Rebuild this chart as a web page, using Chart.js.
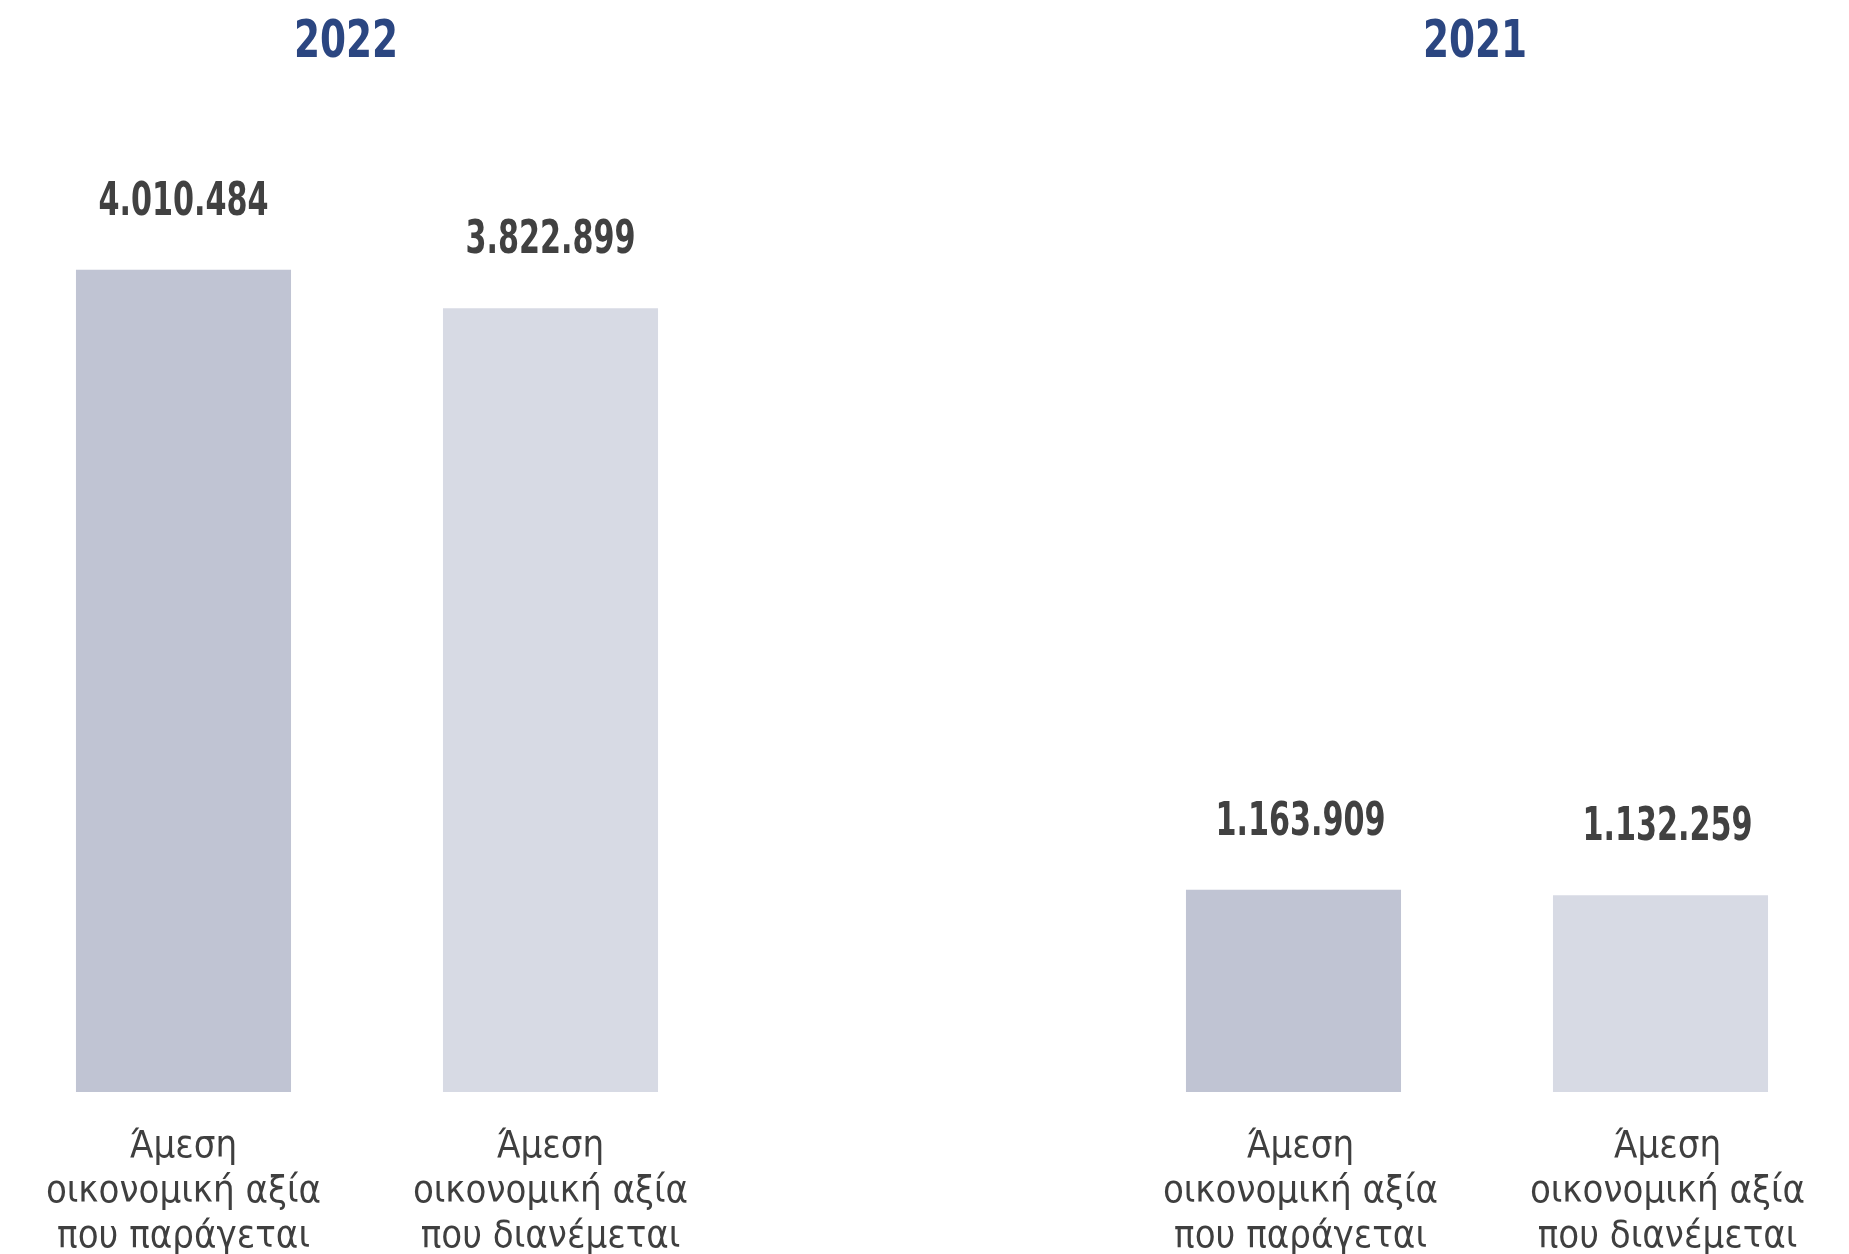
<!DOCTYPE html>
<html>
<head>
<meta charset="utf-8">
<script src="https://cdn.jsdelivr.net/npm/chart.js@4.4.1/dist/chart.umd.min.js"></script>
<style>
  html, body { margin: 0; padding: 0; background: #ffffff; }
  body { width: 1849px; height: 1254px; position: relative; overflow: hidden; }
  canvas { position: absolute; top: 0; }
  #chart-2022 { left: 0; }
  #chart-2021 { left: 1110px; }
</style>
</head>
<body>
<canvas id="chart-2022" width="734" height="1254"></canvas>
<canvas id="chart-2021" width="734" height="1254"></canvas>
<script>
const categories = [
    ['Άμεση', 'οικονομική αξία', 'που παράγεται'],
    ['Άμεση', 'οικονομική αξία', 'που διανέμεται']
];
const years = ['2022', '2021'];
const values2022 = [4010484, 3822899];
const values2021 = [1163909, 1132259];

const barColors = ['#c0c4d3', '#d7dae4'];
const FONT = '"DejaVu Sans Condensed", "DejaVu Sans", sans-serif';

// 4010484 -> "4.010.484"
const fmt = (v) => String(v).replace(/\B(?=(\d{3})+(?!\d))/g, '.');

// narrow bold text: squeeze horizontally around x
function drawNarrow(ctx, text, x, y, font, color, sx) {
    ctx.save();
    ctx.font = font;
    ctx.fillStyle = color;
    ctx.textAlign = 'center';
    ctx.textBaseline = 'alphabetic';
    ctx.translate(x, y);
    ctx.scale(sx, 1);
    ctx.fillText(text, 0, 0);
    ctx.restore();
}

// value above each bar
const valueLabels = {
    id: 'valueLabels',
    afterDatasetsDraw(chart, args, opts) {
        const meta = chart.getDatasetMeta(0);
        meta.data.forEach((bar, i) => {
            drawNarrow(chart.ctx, fmt(chart.data.datasets[0].data[i]), bar.x + opts.shift, bar.y - 55,
                'bold 46px ' + FONT, '#414141', 0.73);
        });
    }
};

// year heading above each group
const yearTitle = {
    id: 'yearTitle',
    afterDraw(chart, args, opts) {
        const a = chart.chartArea;
        drawNarrow(chart.ctx, opts.text, (a.left + a.right) / 2 + opts.shift, 57,
            'bold 52px ' + FONT, '#2b4681', 0.8);
    }
};

function makeChart(id, year, values, yMax, titleShift, textShift) {
    return new Chart(document.getElementById(id), {
        type: 'bar',
        data: {
            labels: categories,
            datasets: [{
                data: values,
                backgroundColor: barColors,
                borderWidth: 0,
                categoryPercentage: 1,
                barPercentage: 0.586
            }]
        },
        options: {
            responsive: false,
            animation: false,
            layout: { padding: { top: 108 } },
            plugins: {
                legend: { display: false },
                tooltip: { enabled: false },
                title: { display: false },
                yearTitle: { text: year, shift: titleShift },
                valueLabels: { shift: textShift }
            },
            scales: {
                x: {
                    grid: { display: false },
                    border: { display: false },
                    ticks: {
                        color: '#3f3f3f',
                        font: { family: FONT, size: 38, lineHeight: 1.184 },
                        padding: 25,
                        labelOffset: textShift,
                        autoSkip: false,
                        maxRotation: 0
                    },
                    afterFit: (axis) => { axis.height = 162; }
                },
                y: {
                    display: false,
                    min: 0,
                    max: yMax
                }
            }
        },
        plugins: [valueLabels, yearTitle]
    });
}

makeChart('chart-2022', years[0], values2022, 4800000, -21, 0);
makeChart('chart-2021', years[1], values2021, 5660000, -2, 7);
</script>
</body>
</html>
